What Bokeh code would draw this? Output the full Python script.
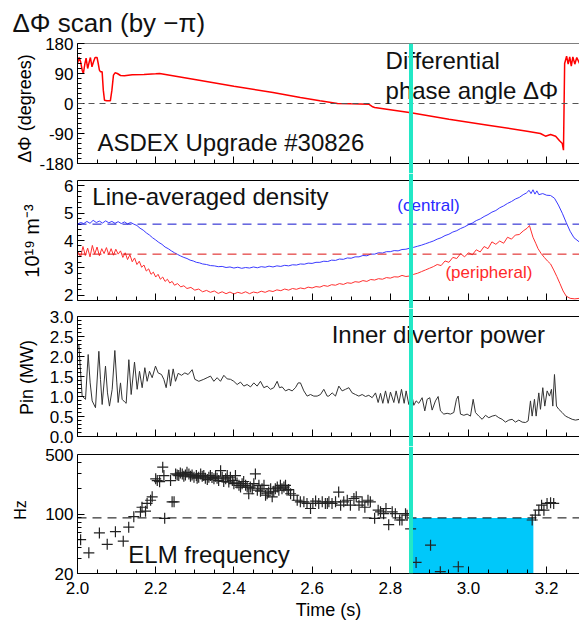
from bokeh.plotting import figure
from bokeh.models import (Range1d, Span, Label, FixedTicker, PrintfTickFormatter, BoxAnnotation,
                          Title, LinearAxis)
from bokeh.layouts import column
from bokeh.embed import file_html
from bokeh.resources import INLINE

# ---------------- data ----------------
PHI_T = [2.000, 2.004, 2.008, 2.012, 2.015, 2.019, 2.022, 2.026, 2.030, 2.033, 2.037, 2.041, 2.045,
         2.050, 2.053, 2.056, 2.059, 2.063, 2.066, 2.069, 2.075, 2.084, 2.088, 2.092, 2.096, 2.102,
         2.110, 2.120, 2.140, 2.170, 2.200, 2.210, 2.300, 2.400, 2.500, 2.570, 2.620, 2.665, 2.700,
         2.745, 2.755, 2.760, 2.853, 2.950, 3.050, 3.150, 3.184, 3.197, 3.210, 3.223, 3.233, 3.240,
         3.243, 3.246, 3.251, 3.255, 3.259, 3.263, 3.267, 3.272, 3.277, 3.284]
PHI_V = [120, 138, 125, 100, 90, 120, 136, 105, 125, 138, 110, 125, 138,
         138, 120, 100, 95, 95, 40, 10, 8, 8, 40, 85, 92, 90,
         84, 83, 86, 87, 89, 90, 72, 52, 33, 18, 8, 0, -1,
         -2, -10, -12, -28, -47, -65, -83, -90, -98, -93, -98, -112, -120,
         -140, 120, 142, 118, 140, 112, 140, 118, 138, 120]

NE_C_T = [2.000, 2.008, 2.016, 2.024, 2.032, 2.040, 2.048, 2.056, 2.064, 2.072, 2.080, 2.088, 2.096,
          2.104, 2.112, 2.120, 2.128, 2.136, 2.144, 2.152, 2.160, 2.168, 2.176, 2.184, 2.192, 2.200,
          2.208, 2.216, 2.224, 2.232, 2.240, 2.248, 2.256, 2.264, 2.272, 2.280, 2.288, 2.296, 2.304,
          2.312, 2.320, 2.330, 2.340, 2.350, 2.360, 2.370, 2.380, 2.390, 2.400, 2.410, 2.420, 2.430,
          2.440, 2.450, 2.460, 2.470, 2.480, 2.490, 2.500, 2.510, 2.520, 2.530, 2.540, 2.550, 2.560,
          2.570, 2.580, 2.590, 2.600, 2.610, 2.620, 2.630, 2.640, 2.650, 2.660, 2.670, 2.680, 2.690,
          2.700, 2.710, 2.720, 2.730, 2.740, 2.750, 2.760, 2.770, 2.780, 2.790, 2.800, 2.810, 2.820,
          2.830, 2.840, 2.850, 2.860, 2.870, 2.880, 2.890, 2.900, 2.910, 2.920, 2.930, 2.940, 2.950,
          2.960, 2.970, 2.980, 2.990, 3.000, 3.010, 3.020, 3.030, 3.040, 3.050, 3.060, 3.070, 3.080,
          3.090, 3.100, 3.110, 3.120, 3.130, 3.140, 3.148, 3.155, 3.160, 3.165, 3.170, 3.175, 3.180,
          3.190, 3.200, 3.210, 3.220, 3.230, 3.240, 3.250, 3.260, 3.270, 3.284]
NE_CENTRAL = [4.60, 4.66, 4.62, 4.70, 4.63, 4.74, 4.66, 4.71, 4.64, 4.72, 4.65, 4.70, 4.63,
              4.69, 4.62, 4.68, 4.61, 4.66, 4.60, 4.55, 4.45, 4.38, 4.28, 4.20, 4.10, 4.02,
              3.93, 3.86, 3.76, 3.70, 3.62, 3.55, 3.49, 3.43, 3.38, 3.34, 3.28, 3.25, 3.20,
              3.18, 3.14, 3.12, 3.08, 3.07, 3.04, 3.05, 3.01, 3.03, 2.99, 3.02, 2.98, 3.01,
              2.99, 3.03, 3.00, 3.04, 3.02, 3.06, 3.03, 3.07, 3.05, 3.09, 3.07, 3.11, 3.10,
              3.14, 3.13, 3.17, 3.16, 3.20, 3.20, 3.24, 3.23, 3.28, 3.27, 3.32, 3.31, 3.36,
              3.35, 3.40, 3.40, 3.45, 3.44, 3.50, 3.50, 3.55, 3.54, 3.59, 3.59, 3.63, 3.62,
              3.67, 3.68, 3.72, 3.75, 3.79, 3.83, 3.88, 3.93, 3.98, 4.05, 4.10, 4.18, 4.23,
              4.31, 4.36, 4.44, 4.50, 4.58, 4.64, 4.73, 4.79, 4.88, 4.95, 5.04, 5.10, 5.20,
              5.27, 5.36, 5.43, 5.52, 5.58, 5.68, 5.74, 5.84, 5.72, 5.86, 5.70, 5.82, 5.68,
              5.72, 5.66, 5.65, 5.55, 5.30, 5.00, 4.66, 4.34, 4.10, 3.94]

NE_P_T = [2.000, 2.008, 2.014, 2.020, 2.026, 2.032, 2.038, 2.044, 2.050, 2.056, 2.062, 2.068, 2.074,
          2.080, 2.086, 2.092, 2.098, 2.104, 2.110, 2.116, 2.122, 2.128, 2.134, 2.140, 2.146, 2.152,
          2.158, 2.164, 2.170, 2.176, 2.182, 2.188, 2.194, 2.200, 2.206, 2.212, 2.218, 2.224, 2.230,
          2.236, 2.242, 2.248, 2.256, 2.264, 2.272, 2.280, 2.290, 2.300, 2.310, 2.320, 2.330, 2.340,
          2.350, 2.360, 2.370, 2.380, 2.390, 2.400, 2.410, 2.420, 2.430, 2.440, 2.450, 2.460, 2.470,
          2.480, 2.490, 2.500, 2.510, 2.520, 2.530, 2.540, 2.550, 2.560, 2.570, 2.580, 2.590, 2.600,
          2.610, 2.620, 2.630, 2.640, 2.650, 2.660, 2.670, 2.680, 2.690, 2.700, 2.710, 2.720, 2.730,
          2.740, 2.750, 2.760, 2.770, 2.780, 2.790, 2.800, 2.810, 2.820, 2.830, 2.840, 2.850, 2.860,
          2.870, 2.880, 2.890, 2.900, 2.910, 2.920, 2.930, 2.940, 2.950, 2.960, 2.970, 2.980, 2.990,
          3.000, 3.010, 3.020, 3.030, 3.040, 3.050, 3.060, 3.070, 3.080, 3.090, 3.100, 3.110, 3.120,
          3.130, 3.140, 3.150, 3.156, 3.165, 3.172, 3.178, 3.186, 3.194, 3.202, 3.210, 3.218, 3.226,
          3.234, 3.242, 3.250, 3.260, 3.272, 3.284]
NE_PERIPHERAL = [3.62, 3.40, 3.78, 3.45, 3.72, 3.40, 3.82, 3.50, 3.76, 3.44, 3.70, 3.52, 3.74,
                 3.48, 3.70, 3.46, 3.68, 3.50, 3.62, 3.38, 3.55, 3.30, 3.48, 3.22, 3.36, 3.12,
                 3.24, 3.02, 3.10, 2.88, 2.96, 2.76, 2.84, 2.66, 2.76, 2.58, 2.66, 2.50, 2.58,
                 2.44, 2.50, 2.36, 2.42, 2.30, 2.34, 2.24, 2.28, 2.18, 2.22, 2.12, 2.17, 2.10,
                 2.15, 2.06, 2.12, 2.05, 2.11, 2.04, 2.10, 2.06, 2.12, 2.05, 2.11, 2.08, 2.14,
                 2.10, 2.16, 2.13, 2.19, 2.16, 2.22, 2.18, 2.24, 2.21, 2.26, 2.23, 2.29, 2.26,
                 2.31, 2.29, 2.35, 2.32, 2.38, 2.36, 2.42, 2.39, 2.45, 2.43, 2.49, 2.47, 2.53,
                 2.50, 2.57, 2.55, 2.60, 2.58, 2.64, 2.62, 2.67, 2.66, 2.72, 2.68, 2.70, 2.76,
                 2.80, 2.86, 2.92, 2.98, 3.04, 3.12, 3.08, 3.25, 3.20, 3.38, 3.34, 3.52, 3.40,
                 3.55, 3.48, 3.66, 3.58, 3.78, 3.70, 3.95, 3.86, 3.98, 3.90, 4.12, 4.05, 4.20,
                 4.22, 4.35, 4.45, 4.55, 4.12, 3.90, 3.70, 3.52, 3.38, 3.25, 3.14, 2.92, 2.68,
                 2.42, 2.15, 1.96, 1.88, 1.86, 1.88]

NE_CENTRAL_REF = 4.6
NE_PERIPHERAL_REF = 3.5

PIN_T = [2.0034, 2.0068, 2.0119, 2.0205, 2.0273, 2.0324, 2.0375, 2.0460, 2.0546, 2.0588, 2.0631,
         2.0716, 2.0767, 2.0818, 2.0887, 2.0955, 2.1006, 2.1040, 2.1100, 2.1142, 2.1210, 2.1245,
         2.1313, 2.1373, 2.1458, 2.1526, 2.1586, 2.1654, 2.1722, 2.1782, 2.1841, 2.1910, 2.1995,
         2.2063, 2.2148, 2.2208, 2.2268, 2.2336, 2.2378, 2.2447, 2.2506, 2.2575, 2.2660, 2.2745,
         2.2830, 2.2933, 2.3001, 2.3103, 2.3231, 2.3316, 2.3402, 2.3487, 2.3572, 2.3657, 2.3743,
         2.3828, 2.3913, 2.3998, 2.4084, 2.4169, 2.4254, 2.4339, 2.4425, 2.4510, 2.4595, 2.4680,
         2.4766, 2.4851, 2.4936, 2.5021, 2.5107, 2.5166, 2.5234, 2.5320, 2.5405, 2.5490, 2.5575,
         2.5644, 2.5703, 2.5789, 2.5874, 2.5959, 2.6044, 2.6130, 2.6215, 2.6300, 2.6385, 2.6428,
         2.6514, 2.6599, 2.6684, 2.6769, 2.6855, 2.6940, 2.7025, 2.7110, 2.7196, 2.7281, 2.7366,
         2.7451, 2.7537, 2.7622, 2.7690, 2.7750, 2.7809, 2.7878, 2.7946, 2.8005, 2.8091, 2.8150,
         2.8219, 2.8287, 2.8355, 2.8406, 2.8474, 2.8543, 2.8602, 2.8662, 2.8730, 2.8815, 2.8883,
         2.8943, 2.9011, 2.9071, 2.9156, 2.9224, 2.9284, 2.9369, 2.9455, 2.9540, 2.9625, 2.9693,
         2.9736, 2.9796, 2.9881, 2.9966, 3.0051, 3.0120, 3.0179, 3.0265, 3.0350, 3.0435, 3.0520,
         3.0606, 3.0691, 3.0776, 3.0861, 3.0947, 3.1032, 3.1117, 3.1202, 3.1288, 3.1373, 3.1458,
         3.1526, 3.1586, 3.1629, 3.1688, 3.1731, 3.1799, 3.1842, 3.1901, 3.1952, 3.2012, 3.2072,
         3.2123, 3.2157, 3.2200, 3.2251, 3.2311, 3.2396, 3.2481, 3.2566, 3.2652, 3.2737, 3.2839]
PIN_V = [2.30, 1.76, 1.01, 0.93, 2.05, 1.34, 0.89, 0.72, 2.13, 1.43, 0.80,
         1.76, 1.09, 0.76, 1.18, 2.15, 1.34, 0.85, 1.34, 0.93, 0.86, 0.83,
         1.92, 1.05, 1.86, 1.18, 1.63, 1.22, 1.72, 1.38, 1.63, 1.47, 1.76,
         1.59, 1.55, 1.43, 1.22, 1.67, 1.26, 1.69, 1.38, 1.58, 1.53, 1.59,
         1.55, 1.67, 1.43, 1.38, 1.43, 1.47, 1.51, 1.38, 1.47, 1.38, 1.53,
         1.44, 1.43, 1.38, 1.30, 1.36, 1.26, 1.30, 1.24, 1.34, 1.26, 1.38,
         1.22, 1.26, 1.18, 1.22, 1.38, 1.22, 1.24, 1.14, 1.18, 1.14, 1.22,
         1.34, 1.34, 1.14, 1.01, 1.05, 1.01, 1.01, 1.05, 1.18, 1.01, 1.01,
         1.09, 1.01, 1.26, 1.14, 1.18, 1.22, 1.09, 1.05, 1.01, 1.05, 1.00,
         1.03, 0.97, 1.09, 0.85, 1.08, 0.83, 1.14, 0.83, 1.11, 0.85, 1.14,
         0.83, 1.18, 0.83, 1.14, 0.80, 1.08, 0.78, 0.89, 0.83, 0.97, 0.64,
         0.93, 0.97, 0.66, 0.89, 1.00, 0.64, 0.56, 0.58, 0.56, 0.60, 0.93,
         1.01, 0.56, 0.53, 0.56, 0.51, 0.93, 0.60, 0.51, 0.43, 0.53, 0.47,
         0.51, 0.53, 0.47, 0.43, 0.36, 0.41, 0.43, 0.36, 0.41, 0.36, 0.35,
         0.39, 0.89, 0.51, 0.93, 0.51, 1.09, 0.68, 1.22, 0.76, 1.14, 1.01,
         1.18, 0.76, 1.55, 0.76, 0.68, 0.60, 0.51, 0.47, 0.43, 0.41, 0.43]

ELM_T = [2.008, 2.029, 2.056, 2.076, 2.097, 2.117, 2.131, 2.144, 2.161, 2.165, 2.174, 2.178, 2.187,
         2.191, 2.200, 2.204, 2.210, 2.218, 2.221, 2.223, 2.238, 2.242, 2.247, 2.251, 2.255, 2.259,
         2.263, 2.268, 2.272, 2.276, 2.280, 2.285, 2.289, 2.293, 2.298, 2.304, 2.306, 2.310, 2.315,
         2.319, 2.323, 2.327, 2.332, 2.336, 2.340, 2.344, 2.349, 2.353, 2.357, 2.361, 2.366, 2.370,
         2.374, 2.379, 2.383, 2.387, 2.391, 2.396, 2.400, 2.404, 2.408, 2.413, 2.417, 2.421, 2.425,
         2.430, 2.434, 2.438, 2.442, 2.447, 2.451, 2.455, 2.460, 2.464, 2.468, 2.472, 2.477, 2.481,
         2.485, 2.489, 2.494, 2.498, 2.502, 2.506, 2.511, 2.515, 2.519, 2.523, 2.528, 2.532, 2.536,
         2.540, 2.545, 2.553, 2.562, 2.570, 2.579, 2.587, 2.596, 2.602, 2.609, 2.617, 2.626, 2.634,
         2.639, 2.643, 2.651, 2.660, 2.668, 2.673, 2.681, 2.690, 2.698, 2.707, 2.713, 2.720, 2.728,
         2.735, 2.743, 2.749, 2.760, 2.769, 2.775, 2.783, 2.789, 2.796, 2.805, 2.813, 2.824, 2.830,
         2.839, 2.843, 2.852, 2.866, 2.903, 2.928, 2.974, 3.163, 3.171, 3.180, 3.187, 3.193, 3.201,
         3.210, 3.218]
ELM_F = [50, 35, 60, 44, 62, 48, 70, 93, 106, 120, 108, 133, 145,
         159, 259, 247, 240, 355, 283, 89, 247, 139, 139, 296, 288, 283,
         304, 296, 278, 288, 309, 296, 278, 288, 271, 283, 263, 271, 296,
         278, 283, 263, 254, 271, 283, 268, 259, 278, 263, 247, 323, 271,
         241, 259, 283, 237, 271, 247, 227, 283, 232, 217, 207, 227, 241,
         217, 207, 173, 207, 198, 227, 296, 190, 217, 185, 198, 217, 166,
         173, 181, 198, 159, 185, 198, 207, 190, 217, 198, 207, 217, 190,
         194, 173, 166, 145, 139, 139, 133, 116, 133, 142, 133, 139, 133,
         133, 139, 133, 139, 181, 127, 139, 145, 127, 152, 159, 127, 139,
         120, 145, 139, 89, 111, 106, 101, 116, 75, 106, 101, 85, 85,
         101, 97, 67, 27, 43, 21, 24, 85, 97, 111, 127, 111, 133,
         136, 133]

ELM_THRESHOLD = 90
SCAN_T = 2.853          # time of the cyan marker
GAP_END_T = 3.166       # end of low-ELM-frequency window

X_TICKS = [2.0, 2.2, 2.4, 2.6, 2.8, 3.0, 3.2]
X_MINOR = [2.0 + 0.05 * i for i in range(27)]

# ---------------- styling ----------------
FONT = "Liberation Sans"
X_START, X_END = 2.0, 3.284
W = 579
LEFT = 77
CYAN = "#22e8c6"
TXT = "#111111"


def style_axis(ax):
    ax.major_tick_in = 7
    ax.major_tick_out = 0
    ax.minor_tick_in = 4
    ax.minor_tick_out = 0
    ax.axis_line_color = "black"
    ax.major_tick_line_color = "black"
    ax.minor_tick_line_color = "black"
    ax.major_label_text_font = FONT
    ax.major_label_text_font_size = "17px"
    ax.major_label_text_color = "black"
    ax.axis_label_text_font = FONT
    ax.axis_label_text_font_style = "normal"
    ax.axis_label_text_font_size = "18px"
    ax.axis_label_text_color = "black"


def base_fig(height, y_start, y_end, log=False, top=0, bottom=0):
    p = figure(width=W, height=height, x_range=Range1d(X_START, X_END),
               y_range=Range1d(y_start, y_end), y_axis_type="log" if log else "linear",
               output_backend="svg", toolbar_location=None,
               min_border_left=LEFT, min_border_right=0, min_border_top=top, min_border_bottom=bottom,
               outline_line_color=None, background_fill_color="white", border_fill_color="white")
    p.grid.visible = False
    for ax in p.axis:
        style_axis(ax)
    p.xaxis.ticker = FixedTicker(ticks=X_TICKS, minor_ticks=X_MINOR)
    p.xaxis.formatter = PrintfTickFormatter(format="%.1f")
    return p


def finish(p, lo, hi, last=False):
    p.yaxis.bounds = (lo, hi)
    p.yaxis.major_label_standoff = 4
    if not last:
        # bottom edge of the panel: tick marks only, no labels
        p.xaxis.fixed_location = lo
        p.xaxis.ticker = FixedTicker(ticks=[], minor_ticks=X_MINOR)
        p.xaxis.minor_tick_in = 4
        big = LinearAxis(fixed_location=lo, ticker=FixedTicker(ticks=[], minor_ticks=X_TICKS))
        style_axis(big)
        big.minor_tick_in = 7
        p.add_layout(big, "below")
    p.add_layout(Span(location=hi, dimension="width", line_color="black", line_width=1))
    p.add_layout(Span(location=SCAN_T, dimension="height", line_color=CYAN, line_width=4))


def text(p, x, y, s, size="24px", color=TXT):
    p.add_layout(Label(x=x, y=y, text=s, text_font=FONT, text_font_size=size, y_offset=8,
                       text_color=color, text_baseline="alphabetic"))


# Panel 1: differential phase
p1 = base_fig(173, -210, 180, top=43)
p1.title = Title(text="ΔΦ scan (by −π)", text_font=FONT, text_font_size="26px",
                 text_font_style="normal", text_color=TXT, align="left", offset=-65, standoff=11)
p1.add_layout(Span(location=0, dimension="width", line_color="#555555", line_width=1, line_dash="6 5"))
p1.line(PHI_T, PHI_V, line_color="red", line_width=1.5)
p1.yaxis.ticker = FixedTicker(ticks=[-180, -90, 0, 90, 180], minor_ticks=list(range(-180, 181, 15)))
p1.yaxis.formatter = PrintfTickFormatter(format="%d")
p1.yaxis.axis_label = "ΔΦ (degrees)"
p1.yaxis.axis_label_standoff = 1
text(p1, 2.051, -141, "ASDEX Upgrade #30826")
text(p1, 2.788, 104, "Differential")
text(p1, 2.788, 14, "phase angle ΔΦ")
finish(p1, -180, 180)

# Panel 2: density
p2 = base_fig(135, 1.50667, 6.45667)
p2.add_layout(Span(location=NE_CENTRAL_REF, dimension="width", line_color="#1010cc", line_width=1, line_dash="9 6"))
p2.add_layout(Span(location=NE_PERIPHERAL_REF, dimension="width", line_color="#dd1010", line_width=1, line_dash="9 6"))
p2.line(NE_C_T, NE_CENTRAL, line_color="#3a3aff", line_width=1)
p2.line(NE_P_T, NE_PERIPHERAL, line_color="#ff3030", line_width=1)
p2.yaxis.ticker = FixedTicker(ticks=[2, 3, 4, 5, 6], minor_ticks=[1.8 + 0.2 * i for i in range(23)])
p2.yaxis.formatter = PrintfTickFormatter(format="%d")
p2.yaxis.axis_label = "10¹⁹ m⁻³"
p2.yaxis.axis_label_text_font_size = "20px"
p2.yaxis.axis_label_standoff = 18
text(p2, 2.818, 4.99, "(central)", size="17px", color="#2a2aff")
text(p2, 2.038, 5.32, "Line-averaged density")
text(p2, 2.941, 2.53, "(peripheral)", size="17px", color="#ff2a2a")
finish(p2, 1.8, 6.2)

# Panel 3: inner divertor power
p3 = base_fig(138, -0.25, 3.2)
p3.line(PIN_T, PIN_V, line_color="#333333", line_width=1)
p3.yaxis.ticker = FixedTicker(ticks=[0, 0.5, 1.0, 1.5, 2.0, 2.5, 3.0],
                              minor_ticks=[0.1 * i for i in range(31)])
p3.yaxis.formatter = PrintfTickFormatter(format="%.1f")
p3.yaxis.axis_label = "Pin (MW)"
p3.yaxis.axis_label_standoff = 10
text(p3, 2.650, 2.355, "Inner divertor power")
finish(p3, 0.0, 3.0)

# Panel 4: ELM frequency (log)
p4 = base_fig(176, 20, 620.8, log=True, bottom=49)
p4.add_layout(BoxAnnotation(left=SCAN_T, right=GAP_END_T, bottom=20, top=ELM_THRESHOLD,
                            fill_color="#00c8fa", fill_alpha=1, line_color=None, level="underlay"))
p4.add_layout(Span(location=ELM_THRESHOLD, dimension="width", line_color="black", line_width=1, line_dash="9 6"))
p4.scatter(ELM_T, ELM_F, marker="cross", size=11, line_color="#222222", line_width=1.2)
p4.yaxis.ticker = FixedTicker(ticks=[20, 100, 500],
                              minor_ticks=[30, 40, 50, 60, 70, 80, 90, 200, 300, 400])
p4.yaxis.formatter = PrintfTickFormatter(format="%d")
p4.yaxis.axis_label = "Hz"
p4.yaxis.axis_label_text_font_size = "16px"
p4.yaxis.axis_label_standoff = 13
p4.xaxis.axis_label = "Time (s)"
p4.xaxis.major_label_standoff = 8
p4.xaxis.axis_label_standoff = 3
text(p4, 2.130, 26.8, "ELM frequency")
finish(p4, 20, 500, last=True)

layout = column(p1, p2, p3, p4, spacing=0)
open("out.html", "w").write(file_html(layout, INLINE))
